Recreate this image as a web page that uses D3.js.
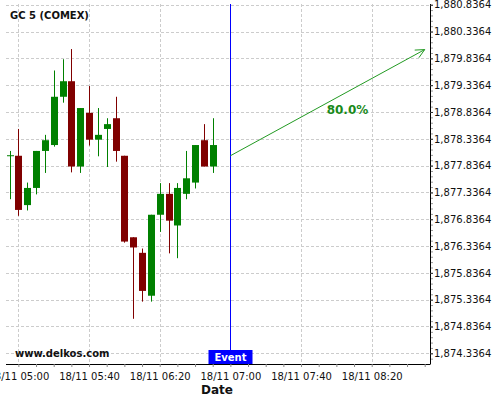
<!DOCTYPE html>
<html>
<head>
<meta charset="utf-8">
<script src="https://cdn.jsdelivr.net/npm/d3@7"></script>
<style>
  html, body { margin: 0; padding: 0; background: #fff; }
  svg { display: block; font-family: "DejaVu Sans", sans-serif; }
</style>
</head>
<body>
<svg id="chart" width="500" height="400"></svg>
<script>
// ---- data ----
const times = ["04:55","05:00","05:05","05:10","05:15","05:20","05:25","05:30","05:35","05:40","05:45","05:50",
               "05:55","06:00","06:05","06:10","06:15","06:20","06:25","06:30","06:35","06:40","06:45","06:50"];
const opens  = [1878.02,1878.02,1877.10,1877.42,1878.11,1878.22,1879.12,1879.41,1877.82,1878.82,1878.32,1878.52,
                1878.72,1878.02,1876.50,1876.21,1875.41,1876.92,1877.31,1876.72,1877.31,1877.52,1878.31,1877.82];
const highs  = [1878.11,1878.52,1877.52,1878.11,1878.41,1879.61,1879.82,1880.01,1878.91,1879.32,1878.91,1878.72,
                1879.12,1878.02,1876.50,1876.29,1876.92,1877.51,1877.51,1877.51,1878.11,1878.22,1878.61,1878.72];
const lows   = [1877.21,1876.90,1877.00,1877.30,1877.70,1878.19,1879.01,1877.71,1877.70,1878.21,1878.01,1877.81,
                1877.91,1876.40,1874.98,1875.30,1875.30,1876.60,1876.20,1876.11,1877.21,1877.41,1877.82,1877.70];
const closes = [1878.03,1877.01,1877.42,1878.11,1878.31,1879.12,1879.41,1877.82,1878.91,1878.32,1878.41,1878.61,
                1878.11,1876.42,1876.31,1875.50,1876.92,1877.31,1876.81,1877.42,1877.60,1878.22,1877.82,1878.22];
const yTickLabels = ["1,874.3364","1,874.8364","1,875.3364","1,875.8364","1,876.3364","1,876.8364","1,877.3364",
                     "1,877.8364","1,878.3364","1,878.8364","1,879.3364","1,879.8364","1,880.3364","1,880.8364"];
const xTickLabels = ["18/11 05:00","18/11 05:40","18/11 06:20","18/11 07:00","18/11 07:40","18/11 08:20"];
const eventTime = "07:00";
const forecastStart = { time: "07:00", price: 1878.02 };
const forecastEnd   = { time: "08:50", price: 1880.00 };
const forecastLabel = "80.0%";
const title = "GC 5 (COMEX)";
const watermark = "www.delkos.com";

(function () {
// ---- helpers ----
const day = "2023-11-18T";
const parseT = s => new Date(day + s + ":00Z");
const candles = times.map((t, i) => ({ t: parseT(t), o: opens[i], h: highs[i], l: lows[i], c: closes[i] }));

const pL = 6, pR = 430, pT = 4, pB = 364;
const svg = d3.select("#chart");

const x = d3.scaleUtc().domain([parseT("04:53"), parseT("08:53")]).range([pL, pR]);
const yTickVals = yTickLabels.map(s => +s.replace(/,/g, ""));
const y = d3.scaleLinear().domain([1874.137, 1880.85]).range([pB, pT]);

// ---- gridlines ----
const grid = svg.append("g").attr("stroke", "#cccccc").attr("stroke-dasharray", "3,2").attr("stroke-width", 1);
yTickVals.forEach(v => {
  const yy = Math.round(y(v)) + 0.5;
  grid.append("line").attr("x1", pL).attr("x2", pR).attr("y1", yy).attr("y2", yy);
});
const xMajor = xTickLabels.map(s => parseT(s.slice(6)));
xMajor.forEach(t => {
  const xx = Math.round(x(t)) + 0.5;
  grid.append("line").attr("x1", xx).attr("x2", xx).attr("y1", pT).attr("y2", pB);
});

// ---- candles ----
const cg = svg.append("g");
candles.forEach(d => {
  const col = d.c >= d.o ? "#008000" : "#800000";
  const cx = Math.round(x(d.t)) + 0.5;
  cg.append("line").attr("x1", cx).attr("x2", cx).attr("y1", y(d.h)).attr("y2", y(d.l))
    .attr("stroke", col).attr("stroke-width", 1);
  const y0 = y(Math.max(d.o, d.c)), y1 = y(Math.min(d.o, d.c));
  cg.append("rect").attr("x", cx - 3.5).attr("width", 7)
    .attr("y", y0).attr("height", Math.max(1, y1 - y0)).attr("fill", col);
});

// ---- axes ----
const xAxis = d3.axisBottom(x)
  .tickValues(d3.utcMinute.every(10).range(parseT("05:00"), parseT("08:53")))
  .tickSize(3)
  .tickFormat(d => {
    const i = xMajor.findIndex(m => +m === +d);
    return i >= 0 ? xTickLabels[i] : "";
  });
const gx = svg.append("g").attr("transform", `translate(0,${pB})`).call(xAxis);
gx.select(".domain").attr("d", `M${pL},0.5H${pR}`).attr("stroke", "#000");
gx.selectAll(".tick line").attr("stroke", "#888");
gx.selectAll(".tick text").attr("font-size", 10).attr("font-family", "DejaVu Sans").attr("fill", "#111").attr("dy", "0.95em");

const minorY = d3.range(0, 70).map(i => 1874.3364 - 0.1 + i * 0.1).filter(v => v >= 1874.137 && v <= 1880.85);
const gyMinor = svg.append("g").attr("transform", `translate(${pR},0)`)
  .call(d3.axisRight(y).tickValues(minorY).tickSize(3).tickFormat(""));
gyMinor.select(".domain").remove();
gyMinor.selectAll(".tick line").attr("stroke", "#999");

const yAxis = d3.axisRight(y).tickValues(yTickVals).tickSize(3)
  .tickFormat((d, i) => yTickLabels[i]);
const gy = svg.append("g").attr("transform", `translate(${pR},0)`).call(yAxis);
gy.select(".domain").attr("d", `M0.5,${pT}V${pB + 0.5}`).attr("stroke", "#000");
gy.selectAll(".tick line").attr("stroke", "#333");
gy.selectAll(".tick text").attr("font-size", 10).attr("font-family", "DejaVu Sans").attr("fill", "#111").attr("x", 4);

// ---- event line ----
const ex = Math.round(x(parseT(eventTime))) + 0.5;
svg.append("line").attr("x1", ex).attr("x2", ex).attr("y1", pT).attr("y2", pB)
  .attr("stroke", "#0000ff").attr("stroke-width", 1);
svg.append("rect").attr("x", ex - 22).attr("y", pB - 14).attr("width", 44).attr("height", 14).attr("fill", "#0000ff");
svg.append("text").attr("x", ex).attr("y", pB - 3).attr("text-anchor", "middle")
  .attr("font-size", 10).attr("font-weight", "bold").attr("fill", "#fff").text("Event");

// ---- forecast arrow ----
const ax1 = x(parseT(forecastStart.time)), ay1 = y(forecastStart.price);
const ax2 = x(parseT(forecastEnd.time)), ay2 = y(forecastEnd.price);
const fcol = "#229a22";
svg.append("line").attr("x1", ax1).attr("y1", ay1).attr("x2", ax2).attr("y2", ay2)
  .attr("stroke", fcol).attr("stroke-width", 1);
const ang = Math.atan2(ay2 - ay1, ax2 - ax1);
const hl = 10, ha = 0.45;
svg.append("path")
  .attr("d", `M${ax2 - hl * Math.cos(ang - ha)},${ay2 - hl * Math.sin(ang - ha)}L${ax2},${ay2}L${ax2 - hl * Math.cos(ang + ha)},${ay2 - hl * Math.sin(ang + ha)}`)
  .attr("fill", "none").attr("stroke", fcol).attr("stroke-width", 1);
svg.append("text").attr("x", 347.5).attr("y", 114).attr("text-anchor", "middle")
  .attr("font-size", 12).attr("font-weight", "bold").attr("fill", "#1a8a1a").text(forecastLabel);

// ---- texts ----
svg.append("text").attr("x", 10).attr("y", 19).attr("font-size", 10).attr("font-weight", "bold")
  .attr("fill", "#111").text(title);
svg.append("text").attr("x", 15).attr("y", 357).attr("font-size", 10).attr("font-weight", "bold")
  .attr("fill", "#111").text(watermark);
svg.append("text").attr("x", 217).attr("y", 394).attr("text-anchor", "middle")
  .attr("font-size", 12).attr("font-weight", "bold").attr("fill", "#111").text("Date");
})();
</script>
</body>
</html>
